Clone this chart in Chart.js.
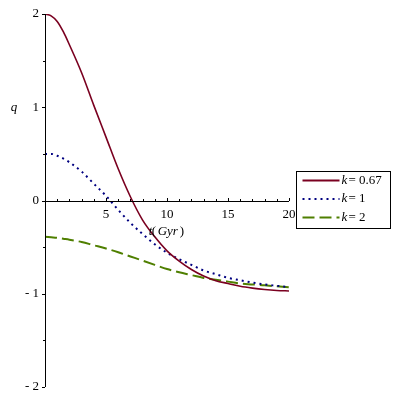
<!DOCTYPE html>
<html>
<head>
<meta charset="utf-8">
<script src="https://cdn.jsdelivr.net/npm/chart.js@4/dist/chart.umd.min.js"></script>
<style>
  body { margin: 0; background: #fff; }
  canvas { display: block; }
</style>
</head>
<body>
<canvas id="chart-area" width="400" height="400"></canvas>
<script>

// t (Gyr) samples
let tValues = [0,0.5,1,1.5,2,3,4,5,6,7,8,9,10,11,12,13,14,15,16,17,18,19,20]

// q(t)
let qK067 = [2.00,1.98,1.92,1.81,1.67,1.37,1.02,0.68,0.34,0.04,-0.21,-0.39,-0.54,-0.65,-0.74,-0.81,-0.86,-0.89,-0.92,-0.94,-0.955,-0.965,-0.97]
let qK1   = [0.50,0.50,0.48,0.45,0.41,0.31,0.18,0.05,-0.10,-0.24,-0.36,-0.47,-0.56,-0.63,-0.69,-0.75,-0.79,-0.83,-0.855,-0.88,-0.90,-0.915,-0.93]
let qK2   = [-0.39,-0.395,-0.40,-0.41,-0.42,-0.445,-0.48,-0.515,-0.555,-0.60,-0.645,-0.69,-0.735,-0.77,-0.80,-0.83,-0.85,-0.87,-0.89,-0.90,-0.91,-0.92,-0.93]

let kLabels = ['0.67','1','2']

let xTickLabels = [5,10,15,20]
let yTickLabels = [-2,-1,0,1,2]

const toPoints = arr => arr.map((q, i) => ({x: tValues[i], y: q}))

const SERIF = '"Liberation Serif", "DejaVu Serif", serif'

/*=============================================
AXES THROUGH THE ORIGIN + LEGEND
=============================================*/

const mapleAxes = {
    id: 'mapleAxes',
    afterDatasetsDraw: (chart)=>{

        let ctx = chart.ctx
        let xs = chart.scales.x
        let ys = chart.scales.y
        let x0 = xs.getPixelForValue(0)
        let y0 = ys.getPixelForValue(0)

        ctx.save()
        ctx.strokeStyle = '#000'
        ctx.lineWidth = 1

        // axis lines
        ctx.beginPath()
        ctx.moveTo(Math.round(x0) + 0.5, ys.getPixelForValue(2))
        ctx.lineTo(Math.round(x0) + 0.5, ys.getPixelForValue(-2))
        ctx.moveTo(x0, Math.round(y0) + 0.5)
        ctx.lineTo(xs.getPixelForValue(20), Math.round(y0) + 0.5)
        ctx.stroke()

        // x ticks (every unit, pointing up)
        ctx.beginPath()
        for (let t = 1; t <= 20; t++) {
            let px = Math.round(xs.getPixelForValue(t)) + 0.5
            let len = (t % 5 == 0) ? 3 : 2
            ctx.moveTo(px, Math.round(y0))
            ctx.lineTo(px, Math.round(y0) - len)
        }
        // y ticks (every half unit, pointing left)
        for (let q = -2; q <= 2; q += 0.5) {
            let py = Math.round(ys.getPixelForValue(q)) + 0.5
            let len = (q % 1 == 0) ? 3 : 2
            ctx.moveTo(Math.round(x0), py)
            ctx.lineTo(Math.round(x0) - len, py)
        }
        ctx.stroke()

        // tick labels
        ctx.fillStyle = '#000'
        ctx.font = '13px ' + SERIF
        ctx.textBaseline = 'middle'
        ctx.textAlign = 'right'
        yTickLabels.forEach(v=>{
            let txt = v < 0 ? '- ' + Math.abs(v) : String(v)
            ctx.fillText(txt, x0 - 6, ys.getPixelForValue(v))
        })
        ctx.textAlign = 'center'
        xTickLabels.forEach(v=>{
            ctx.fillText(String(v), xs.getPixelForValue(v), y0 + 14)
        })

        // axis titles
        ctx.font = 'italic 13px ' + SERIF
        ctx.fillText('q', 14, ys.getPixelForValue(1))
        ctx.textAlign = 'left'
        let tx = xs.getPixelForValue(8.5)
        let ty = y0 + 31
        ctx.fillText('t', tx, ty)
        ctx.font = '13px ' + SERIF
        ctx.fillText('(', tx + 3, ty)
        ctx.font = 'italic 13px ' + SERIF
        ctx.fillText('Gyr', tx + 9, ty)
        ctx.font = '13px ' + SERIF
        ctx.fillText(')', tx + 31, ty)

        // legend
        let lx = 296.5, ly = 171.5, lw = 94, lh = 57
        ctx.lineWidth = 1
        ctx.strokeStyle = '#000'
        ctx.strokeRect(lx, ly, lw, lh)

        chart.data.datasets.forEach((ds, i)=>{
            let rowY = ly + 9 + i * 18.5
            ctx.save()
            ctx.strokeStyle = ds.borderColor
            ctx.lineWidth = 2
            ctx.setLineDash(ds.borderDash || [])
            ctx.beginPath()
            ctx.moveTo(lx + 6, rowY)
            ctx.lineTo(lx + 43, rowY)
            ctx.stroke()
            ctx.restore()

            ctx.fillStyle = '#000'
            ctx.textAlign = 'left'
            ctx.font = 'italic 13px ' + SERIF
            ctx.fillText('k', lx + 45, rowY)
            ctx.font = '13px ' + SERIF
            ctx.fillText('= ' + kLabels[i], lx + 52, rowY)
        })

        ctx.restore()
    }
}

let config = {
    type: 'line',
    data: {
        datasets: [{
            label: 'k = ' + kLabels[0],
            data: toPoints(qK067),
            borderColor: '#7a0020',
            borderWidth: 1.6,
            pointRadius: 0,
            cubicInterpolationMode: 'monotone'
        },{
            label: 'k = ' + kLabels[1],
            data: toPoints(qK1),
            borderColor: '#000080',
            borderWidth: 2,
            borderDash: [2, 4],
            pointRadius: 0,
            cubicInterpolationMode: 'monotone'
        },{
            label: 'k = ' + kLabels[2],
            data: toPoints(qK2),
            borderColor: '#4f7f00',
            borderWidth: 2,
            borderDash: [12, 5],
            pointRadius: 0,
            cubicInterpolationMode: 'monotone'
        }]
    },
    options: {
        responsive: false,
        animation: false,
        layout: {
            padding: {left: 45, right: 111, top: 14, bottom: 13}
        },
        scales: {
            x: {type: 'linear', min: 0, max: 20, display: false},
            y: {type: 'linear', min: -2, max: 2, display: false}
        },
        plugins: {
            legend: {display: false},
            tooltip: {enabled: false}
        }
    },
    plugins: [mapleAxes]
}

let ctx = document.getElementById('chart-area').getContext('2d')
window.myLine = new Chart(ctx, config)

</script>
</body>
</html>
